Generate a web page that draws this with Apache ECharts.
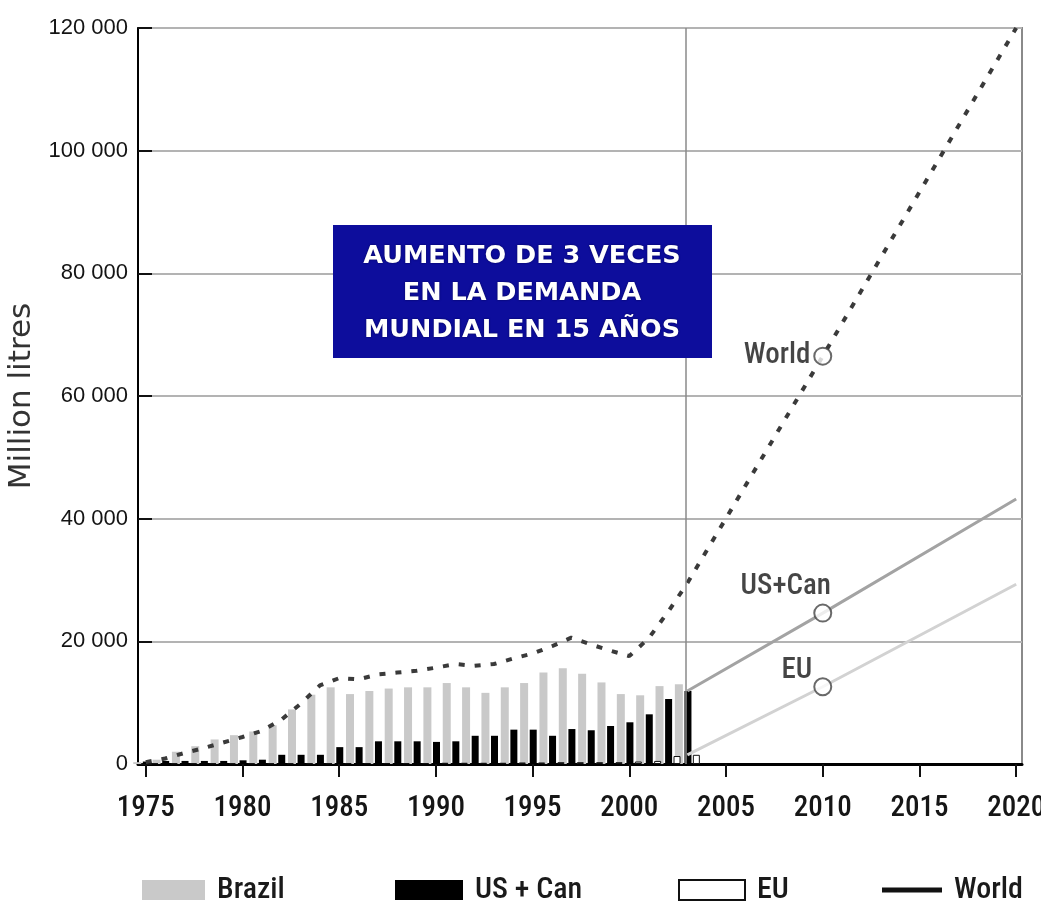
<!DOCTYPE html>
<html>
<head>
<meta charset="utf-8">
<script src="https://cdn.jsdelivr.net/npm/echarts@6/dist/echarts.min.js"></script>
<style>
html,body{margin:0;padding:0;background:#fff;}
#chart{width:1041px;height:908px;}
</style>
</head>
<body>
<div id="chart"></div>
<script>
// ---- Data (million litres) ----
const years = [1975,1976,1977,1978,1979,1980,1981,1982,1983,1984,1985,1986,1987,1988,1989,1990,1991,1992,1993,1994,1995,1996,1997,1998,1999,2000,2001,2002,2003];
const brazil = [300,700,2000,2900,4000,4700,5300,6300,8900,11300,12500,11400,11900,12300,12500,12500,13200,12500,11600,12500,13200,14900,15600,14700,13300,11400,11200,12700,13000];
const usCan  = [400,500,500,500,500,600,700,1500,1500,1500,2750,2750,3700,3700,3700,3600,3700,4600,4600,5600,5600,4600,5700,5500,6200,6800,8100,10600,11900];
const eu     = [100,100,100,100,100,100,100,100,100,100,150,150,150,150,150,200,200,200,200,250,250,300,300,300,300,400,500,1300,1500];
const worldHist = [300,900,1800,2600,3500,4400,5400,7200,9800,12800,14000,13800,14600,14900,15200,15700,16300,16000,16300,17200,18000,19200,20600,19500,18500,17600,20500,24800,29500];
// Projections
const projYears = [2003,2010,2020];
const worldProj = [29500,66500,120000];
const usCanProj = [11900,24600,43200];
const euProj    = [1500,12600,29300];
const markerYear = 2010;
const projectionStart = 2002.9;
// Axis ticks
const xTickYears = [1975,1980,1985,1990,1995,2000,2005,2010,2015,2020];
const yMax = 120000, yStep = 20000;
const boxLines = ['AUMENTO DE 3 VECES','EN LA DEMANDA','MUNDIAL EN 15 AÑOS'];

const pair = (xs, ys) => xs.map((x,i)=>[x, ys[i]]);
const worldData = pair(years, worldHist).concat(pair(projYears.slice(1), worldProj.slice(1)));
const markerIdx = projYears.indexOf(markerYear);

const narrow = '"Roboto Condensed", "DejaVu Sans Condensed", "Liberation Sans Narrow", "Liberation Sans", sans-serif';

const chart = echarts.init(document.getElementById('chart'), null, {renderer:'canvas'});
const legendBase = {
  top: 870, itemHeight: 20, orient:'horizontal', selectedMode:false,
  textStyle:{fontFamily:narrow, fontSize:30, fontWeight:500, color:'#1a1a1a', padding:[0,0,0,7]}
};
chart.setOption({
  animation:false,
  grid:{left:138, right:19, top:28, bottom:144, outerBoundsMode:'none', containLabel:false,
    show:true, borderColor:'#8a8a8a', borderWidth:2, backgroundColor:'transparent'},
  xAxis:{
    type:'value', min:1974.6, max:2020.3,
    axisLine:{show:true, lineStyle:{color:'#000', width:3}},
    axisTick:{show:true, customValues:xTickYears, length:13, lineStyle:{color:'#111', width:2}},
    axisLabel:{customValues:xTickYears, fontFamily:narrow, fontSize:29, fontWeight:500, color:'#161616', margin:30,
      formatter: v => String(v)},
    splitLine:{show:false}
  },
  yAxis:{
    type:'value', min:0, max:yMax, interval:yStep,
    name:'Million litres', nameLocation:'middle', nameGap:92, nameRotate:90,
    nameTextStyle:{fontFamily:'"DejaVu Sans", sans-serif', fontSize:31, color:'#333'},
    axisLine:{show:true, lineStyle:{color:'#000', width:2}},
    axisTick:{show:true, inside:true, length:14, lineStyle:{color:'#111', width:2}},
    axisLabel:{fontFamily:'"Liberation Sans", sans-serif', fontSize:22, color:'#141414', margin:10,
      formatter: v => v===0 ? '0' : (v/1000)+' 000'},
    splitLine:{show:true, lineStyle:{color:'#b3b3b3', width:2}}
  },
  legend:[
    Object.assign({}, legendBase, {left:137, itemWidth:63, data:[{name:'Brazil', icon:'rect'}]}),
    Object.assign({}, legendBase, {left:390, itemWidth:68, data:[{name:'US + Can', icon:'rect'}]}),
    Object.assign({}, legendBase, {left:673, itemWidth:66, data:[{name:'EU', icon:'rect', itemStyle:{color:'#fff', borderColor:'#111', borderWidth:2}}]}),
    Object.assign({}, legendBase, {left:877, itemWidth:60, itemHeight:5,
      data:[{name:'World', icon:'rect', itemStyle:{color:'#111', borderWidth:0}, lineStyle:{color:'#111', width:5, type:'solid'}}]})
  ],
  graphic:[
    {type:'rect', x:333, y:225, shape:{width:379, height:133}, style:{fill:'#0d0d9c'}, z:10},
    {type:'text', x:522, y:293, z:11,
      style:{text:boxLines.join('\n'), align:'center', verticalAlign:'middle',
        fill:'#fff', font:'bold 25.5px "DejaVu Sans", sans-serif', lineHeight:37,
        textShadowColor:'rgba(0,0,60,0.8)', textShadowBlur:2}}
  ],
  series:[
    {name:'Brazil', type:'bar', data:pair(years, brazil), barWidth:8, barGap:'20%',
      itemStyle:{color:'#c9c9c9'}},
    {name:'US + Can', type:'bar', data:pair(years, usCan), barWidth:7, barGap:'20%',
      itemStyle:{color:'#000'}},
    {name:'EU', type:'bar', data:pair(years, eu), barWidth:7, barGap:'20%',
      itemStyle:{color:'#fff', borderColor:'#111', borderWidth:1}},
    {name:'US+Can projection', type:'line', data:pair(projYears, usCanProj), symbol:'none',
      lineStyle:{color:'#a3a3a3', width:3}, z:3},
    {name:'EU projection', type:'line', data:pair(projYears, euProj), symbol:'none',
      lineStyle:{color:'#d2d2d2', width:3}, z:3},
    {name:'World', type:'line', data:worldData, symbol:'none',
      lineStyle:{color:'#3a3a3a', width:4, type:[6,10]}, z:4,
      markLine:{silent:true, symbol:'none', label:{show:false},
        lineStyle:{color:'#8a8a8a', width:1.5, type:'solid'},
        data:[{xAxis:projectionStart}]}},
    {name:'markers', type:'scatter', symbol:'circle', symbolSize:17, z:6,
      itemStyle:{color:'#fff', borderColor:'#444', borderWidth:2},
      label:{show:true, fontFamily:narrow, fontSize:29, fontWeight:500, color:'#161616'},
      data:[
        {value:[markerYear, worldProj[markerIdx]], label:{formatter:'World', position:'left', distance:3}},
        {value:[markerYear, usCanProj[markerIdx]], label:{formatter:'US+Can', position:'top', distance:2, offset:[-37,0]}},
        {value:[markerYear, euProj[markerIdx]], label:{formatter:'EU', position:'left', distance:1, offset:[0,-16]}}
      ]}
  ]
});
</script>
</body>
</html>
